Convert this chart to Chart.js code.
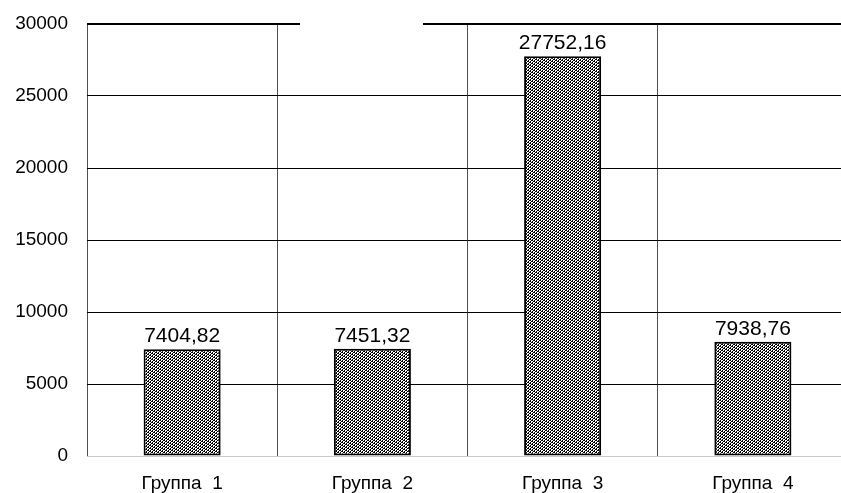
<!DOCTYPE html>
<html>
<head>
<meta charset="utf-8">
<style>
  html, body { margin: 0; padding: 0; background: #fff; overflow: hidden; }
  #wrap { width: 841px; height: 493px; overflow: hidden; }
  canvas { display: block; }
</style>
<script src="https://cdn.jsdelivr.net/npm/chart.js@4/dist/chart.umd.min.js"></script>
</head>
<body>
<div id="wrap"><canvas id="chart" width="848" height="493"></canvas></div>
<script>
// Group names and their values
const categories = ['Группа  1', 'Группа  2', 'Группа  3', 'Группа  4'];
const values = [7404.82, 7451.32, 27752.16, 7938.76];
const yTicks = [0, 5000, 10000, 15000, 20000, 25000, 30000];

const FONT = '"Liberation Sans", Arial, sans-serif';

// Dense diagonal hatch for the bar fill
function hatchPattern() {
  const n = 6;
  const c = document.createElement('canvas');
  c.width = n; c.height = n;
  const g = c.getContext('2d');
  g.fillStyle = '#fff';
  g.fillRect(0, 0, n, n);
  g.fillStyle = '#000';
  for (let x = 0; x < n; x++) {
    for (let y = 0; y < n; y++) {
      const k = (x + y) % 3;
      if (k === 0 || (k === 1 && x % 2 === 0)) g.fillRect(x, y, 1, 1);
    }
  }
  return g.createPattern(c, 'repeat');
}

// Value captions above each bar, decimal comma
const valueLabels = {
  id: 'valueLabels',
  afterDatasetsDraw(chart) {
    const ctx = chart.ctx;
    const meta = chart.getDatasetMeta(0);
    ctx.save();
    ctx.font = '21px ' + FONT;
    ctx.fillStyle = '#000';
    ctx.textAlign = 'center';
    ctx.textBaseline = 'alphabetic';
    meta.data.forEach((bar, i) => {
      const v = chart.data.datasets[0].data[i];
      ctx.fillText(v.toFixed(2).replace('.', ','), bar.x, bar.y - 7);
    });
    ctx.restore();
  }
};

// Break in the top frame line where the heading area sits
const topGap = {
  id: 'topGap',
  beforeDatasetsDraw(chart) {
    const ctx = chart.ctx;
    const top = chart.chartArea.top;
    ctx.save();
    ctx.fillStyle = '#fff';
    ctx.fillRect(300, top - 3, 123, 6);
    ctx.restore();
  }
};

new Chart(document.getElementById('chart'), {
  type: 'bar',
  data: {
    labels: categories,
    datasets: [{
      data: values,
      backgroundColor: hatchPattern(),
      borderColor: '#000',
      borderWidth: 2,
      borderSkipped: false,
      categoryPercentage: 1,
      barPercentage: 0.405
    }]
  },
  options: {
    responsive: false,
    animation: false,
    events: [],
    layout: { autoPadding: false, padding: { top: 24, right: 0, left: 0, bottom: 0 } },
    plugins: {
      legend: { display: false },
      tooltip: { enabled: false }
    },
    scales: {
      x: {
        offset: true,
        grid: {
          offset: true,
          color: '#505050',
          lineWidth: 1,
          drawTicks: false
        },
        border: { display: true, color: '#c8c8c8', width: 1 },
        ticks: {
          color: '#000',
          padding: 16,
          font: { family: FONT, size: 19 }
        },
        afterFit(scale) { scale.height = 37; }
      },
      y: {
        min: 0,
        max: 30000,
        afterBuildTicks(scale) { scale.ticks = yTicks.map(v => ({ value: v })); },
        grid: {
          color: (c) => c.tick && c.tick.value === 0 ? '#c8c8c8' : '#000',
          lineWidth: (c) => c.tick && c.tick.value === 30000 ? 2 : 1,
          drawTicks: false
        },
        border: { display: false },
        ticks: {
          color: '#000',
          padding: 19,
          font: { family: FONT, size: 19 },
          callback: (v) => String(v)
        },
        afterFit(scale) {
          scale.width = 87;
          scale.paddingTop = 0;
          scale.paddingBottom = 0;
        }
      }
    }
  },
  plugins: [valueLabels, topGap]
});
</script>
</body>
</html>
